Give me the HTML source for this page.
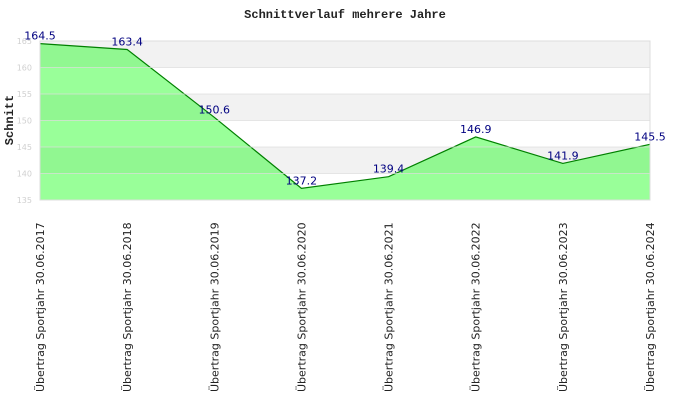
<!DOCTYPE html>
<html><head><meta charset="utf-8"><style>
html,body{margin:0;padding:0;background:#fff;width:690px;height:420px;overflow:hidden}
</style></head><body>
<svg id="chart" width="690" height="420" xmlns="http://www.w3.org/2000/svg">
<text x="345" y="18" text-anchor="middle" font-family="Liberation Mono, monospace" font-weight="bold" font-size="12" fill="#222">Schnittverlauf mehrere Jahre</text>
<text transform="translate(13,120) rotate(-90)" text-anchor="middle" font-family="Liberation Mono, monospace" font-weight="bold" font-size="12" fill="#222">Schnitt</text>
<g id="bands"></g><g id="area"></g><g id="grid"></g><g id="yticks"></g><g id="labels"></g><g id="xlabels"></g>
</svg>
<script>
const categories=["Übertrag Sportjahr 30.06.2017","Übertrag Sportjahr 30.06.2018","Übertrag Sportjahr 30.06.2019","Übertrag Sportjahr 30.06.2020","Übertrag Sportjahr 30.06.2021","Übertrag Sportjahr 30.06.2022","Übertrag Sportjahr 30.06.2023","Übertrag Sportjahr 30.06.2024"];
const values=[164.5,163.4,150.6,137.2,139.4,146.9,141.9,145.5];
const yTicks=[135,140,145,150,155,160,165];
const NS="http://www.w3.org/2000/svg";
const L=40,R=650,T=41,B=200,ymin=135,ymax=165;
const xS=i=>L+i*(R-L)/(categories.length-1);
const yS=v=>B-(v-ymin)/(ymax-ymin)*(B-T);
function mk(t,a,p){const e=document.createElementNS(NS,t);for(const k in a)e.setAttribute(k,a[k]);document.getElementById(p).appendChild(e);return e;}
for(let i=0;i<yTicks.length-1;i++){
 const b=mk('rect',{x:L,y:yS(yTicks[i+1]),width:R-L,height:yS(yTicks[i])-yS(yTicks[i+1]),fill:(i%2==0)?'#ffffff':'#f2f2f2'},'bands');
 
 
}
let d=`M${xS(0)},${yS(ymin)}`;values.forEach((v,i)=>d+=` L${xS(i)},${yS(v)}`);d+=` L${xS(values.length-1)},${yS(ymin)} Z`;
const a=mk('path',{d:d,fill:'rgb(0,255,0)','fill-opacity':0.4},'area');


const ln=mk('polyline',{points:values.map((v,i)=>xS(i)+','+yS(v)).join(' '),fill:'none',stroke:'#008000','stroke-width':1.2},'area');


yTicks.forEach(t=>{
 const g=mk('line',{x1:L,x2:R,y1:yS(t),y2:yS(t),stroke:'#dddddd','stroke-opacity':0.7},'grid');
 
 
 const tx=mk('text',{x:L-8,y:yS(t)+3,'text-anchor':'end','font-family':'DejaVu Sans, sans-serif','font-size':8,fill:'#d0d0d0'},'yticks');
 tx.textContent=t;
 
 
});
mk('rect',{x:L,y:T,width:R-L,height:B-T,fill:'none',stroke:'#dddddd'},'grid');
values.forEach((v,i)=>{
 const t=mk('text',{x:xS(i),y:yS(v)-4,'text-anchor':'middle','font-family':'DejaVu Sans, sans-serif','font-size':11,fill:'#000080'},'labels');
 t.textContent=v.toFixed(1);
 
 
});
categories.forEach((c,i)=>{
 const t=mk('text',{transform:`translate(${xS(i)+4},392) rotate(-90)`,'text-anchor':'start','font-family':'DejaVu Sans, sans-serif','font-size':11,fill:'#222'},'xlabels');
 t.textContent=c;
 
 
});
</script>
</body></html>
